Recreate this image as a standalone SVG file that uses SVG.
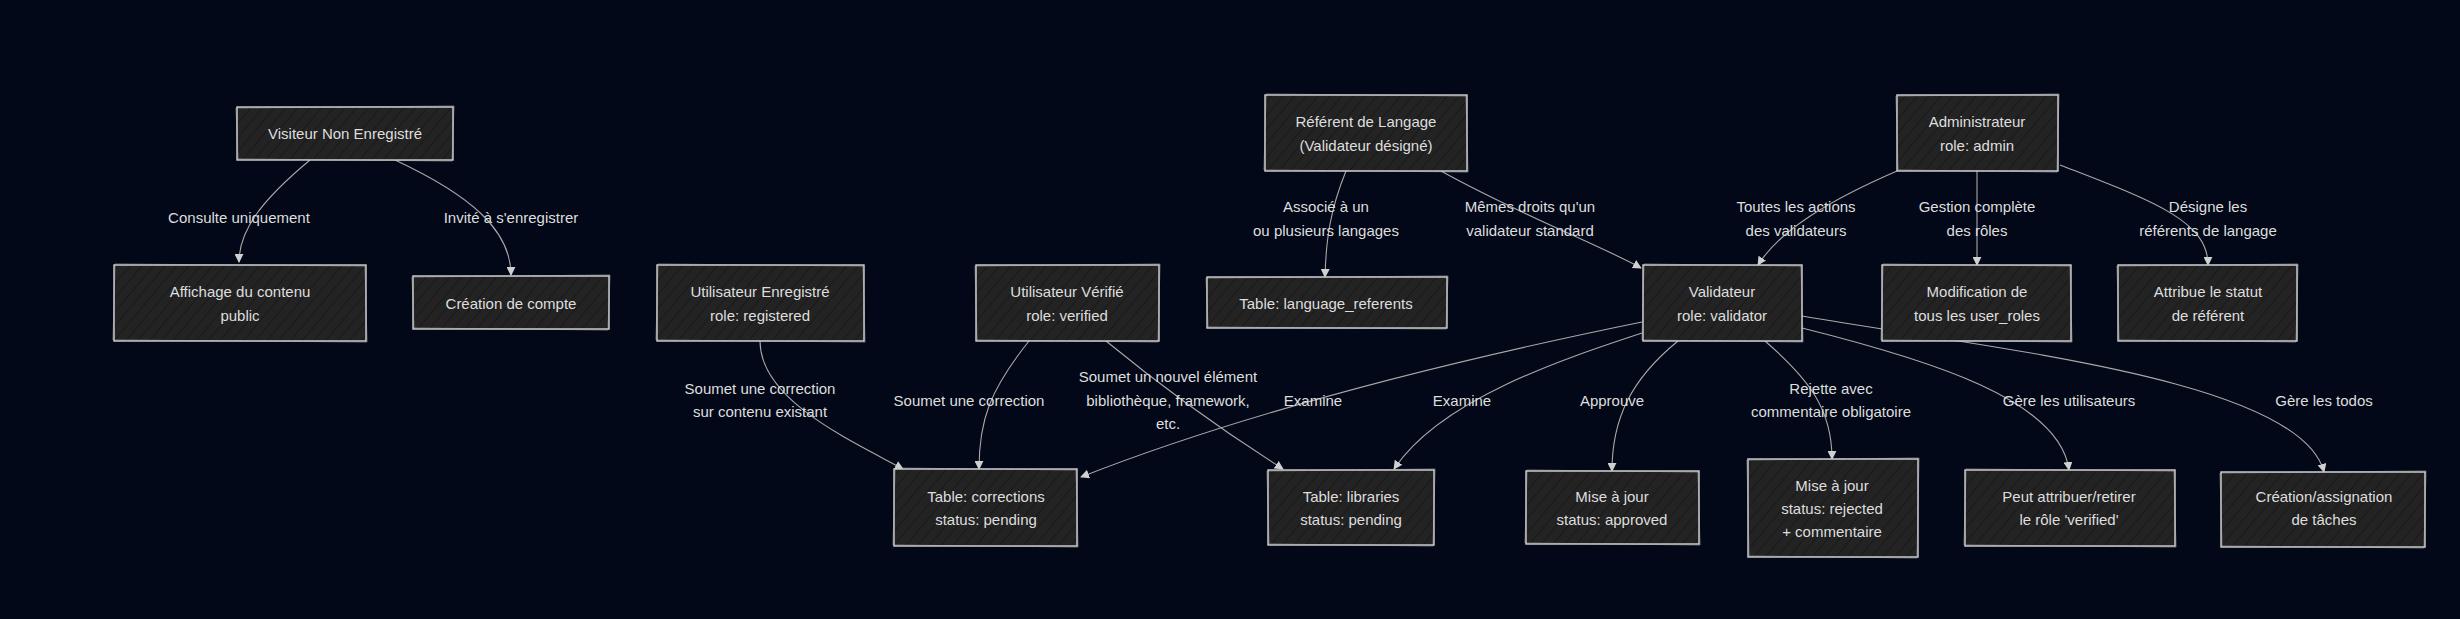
<svg xmlns="http://www.w3.org/2000/svg" width="2460" height="619" viewBox="0 0 2460 619">
<defs>
<pattern id="hatch" patternUnits="userSpaceOnUse" width="9" height="9" patternTransform="rotate(40)">
<rect width="9" height="9" fill="#232323"/>
<line x1="0" y1="0" x2="0" y2="9" stroke="#141414" stroke-width="1.4"/>
</pattern>
<marker id="arr" viewBox="0 0 10 10" refX="9" refY="5" markerWidth="9" markerHeight="9" markerUnits="userSpaceOnUse" orient="auto">
<path d="M0,0 L10,5 L0,10 z" fill="#d0d0d0"/>
</marker>
<style>
.box{fill:url(#hatch);stroke:#d4d4d4;stroke-width:1.4}
.box2{fill:none;stroke:#bdbdbd;stroke-width:0.8;opacity:0.7}
.t{font-family:"Liberation Sans",Arial,sans-serif;font-size:15px;fill:#dedede;text-anchor:middle;dominant-baseline:central}
.e{fill:none;stroke:#a8a8a8;stroke-width:1.1;marker-end:url(#arr)}
</style>
</defs>
<rect width="2460" height="619" fill="#020817"/>
<g id="connectors">
<path class="e" d="M310,160 C262,200 239,230 239,262"/>
<path class="e" d="M395,160 C470,195 511,230 511,275"/>
<path class="e" d="M760,341 C760,400 850,440 903,469"/>
<path class="e" d="M1029,341 C990,390 979,420 979,469"/>
<path class="e" d="M1106,341 Q1190,410 1283,469"/>
<path class="e" d="M1346,171 C1330,210 1326,240 1325,277"/>
<path class="e" d="M1441,171 C1520,215 1600,245 1641,268"/>
<path class="e" d="M1897,171 C1830,200 1780,230 1758,265"/>
<path class="e" d="M1977,171 L1977,265"/>
<path class="e" d="M2060,165 C2150,200 2208,220 2208,265"/>
<path class="e" d="M1642,322 Q1298,392 1081,477"/>
<path class="e" d="M1642,333 C1560,360 1440,400 1394,469"/>
<path class="e" d="M1678,341 C1630,380 1612,420 1612,471"/>
<path class="e" d="M1765,341 C1810,380 1832,410 1832,459"/>
<path class="e" d="M1802,328 C1930,360 2060,400 2069,470"/>
<path class="e" d="M1802,316 C2000,350 2300,380 2324,472"/>
</g>
<g id="edge-labels">
<text class="t" x="239" y="217">Consulte uniquement</text>
<text class="t" x="511" y="217">Invité à s'enregistrer</text>
<text class="t" x="760" y="388">Soumet une correction</text>
<text class="t" x="760" y="411">sur contenu existant</text>
<text class="t" x="969" y="400">Soumet une correction</text>
<text class="t" x="1168" y="376">Soumet un nouvel élément</text>
<text class="t" x="1168" y="400">bibliothèque, framework,</text>
<text class="t" x="1168" y="423">etc.</text>
<text class="t" x="1326" y="206">Associé à un</text>
<text class="t" x="1326" y="230">ou plusieurs langages</text>
<text class="t" x="1530" y="206">Mêmes droits qu'un</text>
<text class="t" x="1530" y="230">validateur standard</text>
<text class="t" x="1796" y="206">Toutes les actions</text>
<text class="t" x="1796" y="230">des validateurs</text>
<text class="t" x="1977" y="206">Gestion complète</text>
<text class="t" x="1977" y="230">des rôles</text>
<text class="t" x="2208" y="206">Désigne les</text>
<text class="t" x="2208" y="230">référents de langage</text>
<text class="t" x="1313" y="400">Examine</text>
<text class="t" x="1462" y="400">Examine</text>
<text class="t" x="1612" y="400">Approuve</text>
<text class="t" x="1831" y="388">Rejette avec</text>
<text class="t" x="1831" y="411">commentaire obligatoire</text>
<text class="t" x="2069" y="400">Gère les utilisateurs</text>
<text class="t" x="2324" y="400">Gère les todos</text>
</g>
<g id="visiteur"><rect class="box" x="237" y="107" width="216" height="53"/><path class="box2" d="M236,108 L454,106 L452,161 L238,159 Z"/><text class="t" x="345" y="133">Visiteur Non Enregistré</text></g>
<g id="affichage"><rect class="box" x="114" y="265" width="252" height="76"/><path class="box2" d="M115,264 L365,266 L367,342 L113,340 Z"/><text class="t" x="240" y="291">Affichage du contenu</text><text class="t" x="240" y="315">public</text></g>
<g id="creation-compte"><rect class="box" x="413" y="276" width="196" height="53"/><path class="box2" d="M412,277 L610,275 L608,330 L414,328 Z"/><text class="t" x="511" y="303">Création de compte</text></g>
<g id="enregistre"><rect class="box" x="657" y="265" width="207" height="76"/><path class="box2" d="M658,264 L863,266 L865,342 L656,340 Z"/><text class="t" x="760" y="291">Utilisateur Enregistré</text><text class="t" x="760" y="315">role: registered</text></g>
<g id="verifie"><rect class="box" x="976" y="265" width="183" height="76"/><path class="box2" d="M975,266 L1160,264 L1158,342 L977,340 Z"/><text class="t" x="1067" y="291">Utilisateur Vérifié</text><text class="t" x="1067" y="315">role: verified</text></g>
<g id="corrections"><rect class="box" x="894" y="469" width="183" height="77"/><path class="box2" d="M895,468 L1076,470 L1078,547 L893,545 Z"/><text class="t" x="986" y="496">Table: corrections</text><text class="t" x="986" y="519">status: pending</text></g>
<g id="libraries"><rect class="box" x="1268" y="470" width="166" height="75"/><path class="box2" d="M1267,471 L1435,469 L1433,546 L1269,544 Z"/><text class="t" x="1351" y="496">Table: libraries</text><text class="t" x="1351" y="519">status: pending</text></g>
<g id="referent"><rect class="box" x="1265" y="95" width="202" height="76"/><path class="box2" d="M1266,94 L1466,96 L1468,172 L1264,170 Z"/><text class="t" x="1366" y="121">Référent de Langage</text><text class="t" x="1366" y="145">(Validateur désigné)</text></g>
<g id="language-referents"><rect class="box" x="1207" y="277" width="240" height="51"/><path class="box2" d="M1206,278 L1448,276 L1446,329 L1208,327 Z"/><text class="t" x="1326" y="303">Table: language_referents</text></g>
<g id="validateur"><rect class="box" x="1643" y="265" width="159" height="76"/><path class="box2" d="M1644,264 L1801,266 L1803,342 L1642,340 Z"/><text class="t" x="1722" y="291">Validateur</text><text class="t" x="1722" y="315">role: validator</text></g>
<g id="admin"><rect class="box" x="1897" y="95" width="161" height="76"/><path class="box2" d="M1896,96 L2059,94 L2057,172 L1898,170 Z"/><text class="t" x="1977" y="121">Administrateur</text><text class="t" x="1977" y="145">role: admin</text></g>
<g id="modification"><rect class="box" x="1882" y="265" width="189" height="76"/><path class="box2" d="M1883,264 L2070,266 L2072,342 L1881,340 Z"/><text class="t" x="1977" y="291">Modification de</text><text class="t" x="1977" y="315">tous les user_roles</text></g>
<g id="attribue"><rect class="box" x="2118" y="265" width="179" height="76"/><path class="box2" d="M2117,266 L2298,264 L2296,342 L2119,340 Z"/><text class="t" x="2208" y="291">Attribue le statut</text><text class="t" x="2208" y="315">de référent</text></g>
<g id="approved"><rect class="box" x="1526" y="471" width="173" height="73"/><path class="box2" d="M1527,470 L1698,472 L1700,545 L1525,543 Z"/><text class="t" x="1612" y="496">Mise à jour</text><text class="t" x="1612" y="519">status: approved</text></g>
<g id="rejected"><rect class="box" x="1748" y="459" width="170" height="98"/><path class="box2" d="M1747,460 L1919,458 L1917,558 L1749,556 Z"/><text class="t" x="1832" y="485">Mise à jour</text><text class="t" x="1832" y="508">status: rejected</text><text class="t" x="1832" y="531">+ commentaire</text></g>
<g id="peut-attribuer"><rect class="box" x="1965" y="470" width="210" height="76"/><path class="box2" d="M1966,469 L2174,471 L2176,547 L1964,545 Z"/><text class="t" x="2069" y="496">Peut attribuer/retirer</text><text class="t" x="2069" y="519">le rôle 'verified'</text></g>
<g id="taches"><rect class="box" x="2221" y="472" width="204" height="75"/><path class="box2" d="M2220,473 L2426,471 L2424,548 L2222,546 Z"/><text class="t" x="2324" y="496">Création/assignation</text><text class="t" x="2324" y="519">de tâches</text></g>
</svg>
